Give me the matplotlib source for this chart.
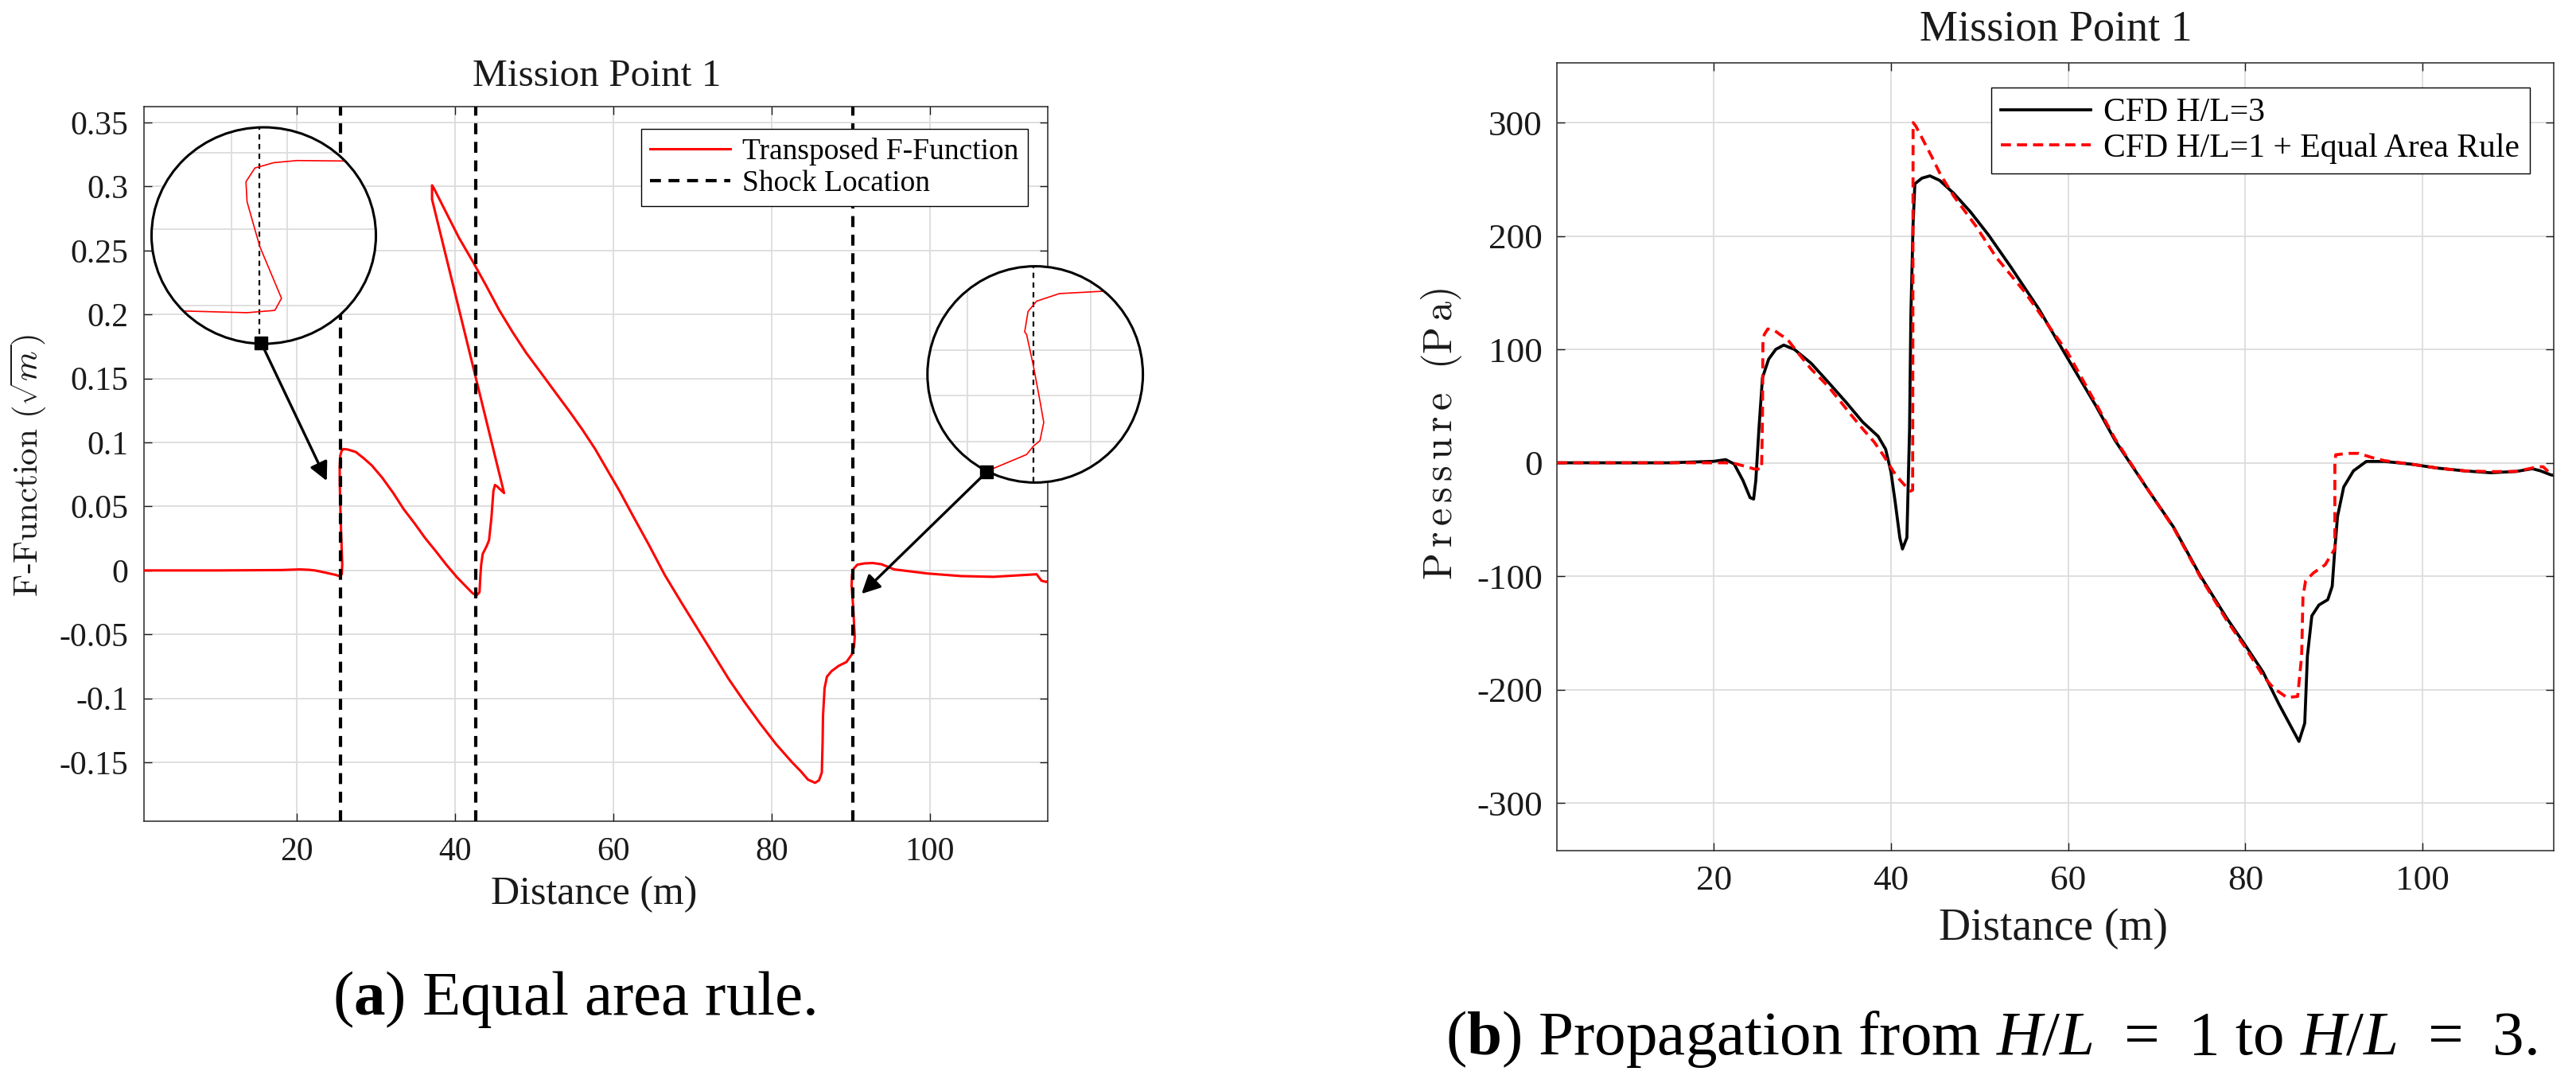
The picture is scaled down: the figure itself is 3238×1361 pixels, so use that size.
import matplotlib
matplotlib.use('Agg')
import matplotlib.pyplot as plt
from matplotlib.patches import Ellipse, FancyArrowPatch
from matplotlib.lines import Line2D

plt.rcParams['font.family'] = ['Liberation Serif', 'DejaVu Serif']
plt.rcParams['mathtext.fontset'] = 'custom'
plt.rcParams['mathtext.rm'] = 'Liberation Serif'
plt.rcParams['mathtext.it'] = 'Liberation Serif:italic'
plt.rcParams['mathtext.bf'] = 'Liberation Serif:bold'

# ---- (a) transposed F-function, traced in curve order (it folds back on itself)
f_dist = [0.7, 10, 18, 20.4, 21.5, 22.3, 23.4, 24.2, 24.92, 25.44, 25.69, 25.75,
          25.557, 25.51, 25.44, 25.43, 25.51, 25.68, 25.89, 26.45, 27.46, 28.5,
          29.5, 30.8, 32.2, 33.5, 34.9, 36.2, 37.55, 38.9, 40.2, 41.3, 42.25,
          42.75, 43.1, 43.2, 43.3, 43.5, 44.0, 44.3, 44.6, 44.85, 45.05, 45.35,
          46.2, 37.1, 37.1, 37.35, 38.9, 40.5, 42.25, 43.9, 45.6, 47.3, 49.0,
          50.8, 52.7, 54.5, 56.1, 57.7, 59.2, 60.8, 62.5, 64.5, 66.5, 68.5, 70.6,
          72.6, 74.6, 76.6, 78.6, 80.6, 82.6, 83.7, 84.6, 85.5, 86.0, 86.35,
          86.45, 86.5, 86.7, 87.0, 87.6, 88.5, 89.46, 90.15, 90.30, 90.43, 90.51,
          90.43, 90.29, 90.15, 90.11, 90.18, 90.36, 90.84, 91.74, 92.8, 93.9,
          95.5, 99.7, 103.9, 108.0, 113.5, 114.1, 114.7, 115.2]
f_val = [0.0, 0.0, 0.0003, 0.0008, 0.0005, 0.0, -0.0014, -0.0025, -0.0035,
         -0.0045, -0.003, 0.0049, 0.0383, 0.050, 0.068, 0.081, 0.090, 0.0935,
         0.0949, 0.0945, 0.0926, 0.0875, 0.082, 0.0725, 0.0605, 0.048, 0.0367,
         0.0255, 0.0152, 0.0045, -0.005, -0.012, -0.018, -0.0193, -0.017,
         -0.005, 0.004, 0.0129, 0.019, 0.0236, 0.041, 0.062, 0.0668, 0.0655,
         0.0605, 0.290, 0.301, 0.2985, 0.2795, 0.260, 0.2414, 0.223, 0.2033,
         0.186, 0.170, 0.155, 0.139, 0.124, 0.110, 0.095, 0.079, 0.062, 0.0425,
         0.020, -0.0035, -0.024, -0.045, -0.065, -0.085, -0.103, -0.12, -0.136,
         -0.150, -0.157, -0.1635, -0.166, -0.164, -0.158, -0.135, -0.114,
         -0.092, -0.083, -0.0786, -0.0745, -0.0716, -0.0656, -0.0618, -0.0596,
         -0.0516, -0.0422, -0.0267, -0.0133, -0.0122, -0.0033, 0.0012, 0.0045,
         0.0055, 0.0058, 0.0048, 0.0008, -0.0024, -0.0044, -0.005, -0.003,
         -0.008, -0.009, -0.007]
shock_x = [25.55, 42.6, 90.3]

# ---- (b) pressure signatures
cfd3_dist = [2.3, 15, 20, 21.35, 22.3, 23.3, 24.1, 24.5, 24.75, 25.1, 25.5, 26.2,
             27.0, 27.9, 29.1, 31.0, 32.9, 34.9, 36.8, 38.55, 39.4, 40.0, 40.5,
             41.0, 41.3, 41.8, 42.1, 42.25, 42.5, 42.7, 43.5, 44.4, 45.5, 47.1,
             49.0, 51.0, 53.5, 56.7, 59.9, 63.15, 65.3, 68.9, 71.9, 74.9, 77.9,
             80.0, 82.0, 83.8, 86.05, 86.7, 87.0, 87.5, 88.3, 89.3, 89.8, 90.1,
             90.4, 91.1, 92.2, 93.65, 95.7, 98.7, 101.7, 104.7, 107.7, 110.6,
             112.4, 113.3, 114.5, 114.8]
cfd3_p = [0, 0, 1.3, 2.8, -1, -15.6, -30.7, -32, -15.6, 29.7, 75, 91.4, 100,
          103.8, 100, 87.7, 71.3, 53.7, 36, 23.4, 12, -8, -35.8, -66, -76, -66,
          29.7, 130.5, 211, 246, 251, 253, 249, 237.5, 221, 201, 173, 135.5,
          92.7, 50, 19.6, -22.5, -56.8, -99.4, -137, -161, -184.6, -213, -245.7,
          -229.6, -170.4, -135, -125.4, -120.7, -108.9, -75.7, -47.3, -21.3,
          -7.1, 1.2, 1.2, -1.2, -4.7, -7.1, -8.8, -7.6, -5.2, -7.1, -10.7, -11]

ear_dist = [2.3, 15, 21.3, 22.3, 23.5, 24.6, 25.4, 25.5, 25.55, 25.7, 26.1, 26.8,
            27.5, 28.3, 29.6, 31.0, 32.9, 34.2, 35.5, 36.8, 38.1, 39.2, 40.3,
            41.0, 41.7, 42.2, 42.45, 42.5, 42.8, 43.6, 44.6, 45.6, 47.1, 49.6,
            51.9, 55.1, 57.5, 59.9, 63.15, 65.3, 68.9, 71.9, 74.9, 77.9, 80.0,
            82.0, 83.2, 84.7, 85.9, 86.35, 86.5, 86.8, 87.7, 89.0, 90.1, 90.1,
            90.2, 91.6, 92.8, 94.25, 95.7, 98.7, 101.7, 104.7, 107.7, 110.6,
            113.0, 113.6, 114.5, 114.8]
ear_p = [0, 0, 0, -0.5, -3, -5.5, -5.5, 40, 105, 113, 118, 117, 113, 109, 96,
         82.6, 67.5, 55, 42.3, 30, 18.4, 6, -8, -15, -21, -25, -24, 300, 297,
         285, 270, 254, 235, 208.6, 181, 150.6, 124, 97.7, 52, 21, -22.5, -57.5,
         -100.5, -139, -163, -188, -198.8, -207, -206, -170.4, -118, -104, -97,
         -90, -75.7, 0, 7.1, 8.3, 8.3, 4.7, 1.9, -1.2, -4.7, -7.1, -7.8, -7.6,
         -3.5, -3.5, -10, -10]

a_yticks = [-0.15, -0.1, -0.05, 0, 0.05, 0.1, 0.15, 0.2, 0.25, 0.3, 0.35]
a_ylabels = ['-0.15', '-0.1', '-0.05', '0', '0.05', '0.1', '0.15', '0.2',
             '0.25', '0.3', '0.35']
b_yticks = [-300, -200, -100, 0, 100, 200, 300]
b_ylabels = ['-300', '-200', '-100', '0', '100', '200', '300']
x_ticks = [20, 40, 60, 80, 100]

W, H = 3238, 1361
INK = '#1a1a1a'
GRID = '#dcdcdc'
fig = plt.figure(figsize=(W / 100, H / 100), dpi=100)


def box(x0, y0, x1, y1):
    # pixel box (top-left origin) -> figure fraction rect
    return [x0 / W, 1 - y1 / H, (x1 - x0) / W, (y1 - y0) / H]


def matlab_style(ax, fs, pad):
    ax.grid(True, color=GRID, lw=1.3)
    ax.set_axisbelow(True)
    ax.tick_params(direction='in', top=True, right=True, length=7, width=1.0,
                   labelsize=fs, pad=pad, colors=INK)
    for s in ax.spines.values():
        s.set_color('#262626')
        s.set_linewidth(1.1)


# ================= panel (a)
ax1 = fig.add_axes(box(181, 134, 1317, 1032))
ax1.plot(f_dist, f_val, color='red', lw=2.2, label='Transposed F-Function', zorder=3)
for i, s in enumerate(shock_x):
    ax1.axvline(s, color='k', lw=3.0, ls=(0, (3.3, 2.3)), zorder=4,
                label='Shock Location' if i == 0 else None)
ax1.set_xlim(0.7, 114.9)
ax1.set_ylim(-0.196, 0.3625)
ax1.set_xticks(x_ticks)
ax1.set_yticks(a_yticks)
ax1.set_yticklabels(a_ylabels)
matlab_style(ax1, 30, 14)
leg = ax1.legend(loc='upper right', bbox_to_anchor=(0.978, 0.969), borderaxespad=0,
                 fontsize=27, fancybox=False, edgecolor='k', framealpha=1,
                 handlelength=2.7, labelspacing=0.15, borderpad=0.3, handletextpad=0.4)
leg.get_frame().set_linewidth(1.0)

fig.text(750 / W, 1 - 96 / H, 'Mission Point 1', ha='center', va='center', fontsize=35.5, color=INK)
fig.text(747 / W, 1 - 1124 / H, 'Distance (m)', ha='center', va='center', fontsize=36, color=INK)
fig.text(36 / W, 1 - 585 / H, r'$\mathrm{F}$-$\mathrm{Function\ (}\sqrt{m}\mathrm{)}$',
         rotation=90, ha='center', va='center', fontsize=31, color=INK, math_fontfamily='cm')


def circle_inset(rect_px, xlim, ylim, xgrid, ygrid, shock):
    ins = fig.add_axes(box(*rect_px))
    ins.set_xlim(xlim)
    ins.set_ylim(ylim)
    ins.axis('off')
    bg = Ellipse((0.5, 0.5), 1, 1, transform=ins.transAxes, facecolor='white',
                 edgecolor='none', zorder=0)
    ins.add_patch(bg)
    arts = []
    for g in xgrid:
        arts.append(ins.axvline(g, color=GRID, lw=1.3, zorder=1))
    for g in ygrid:
        arts.append(ins.axhline(g, color=GRID, lw=1.3, zorder=1))
    arts.append(ins.axvline(shock, color='k', lw=1.6, ls=(0, (3, 2.5)), zorder=2))
    arts += ins.plot(f_dist, f_val, color='red', lw=1.2, zorder=3)
    for a in arts:
        a.set_clip_path(bg)
    ins.add_patch(Ellipse((0.5, 0.5), 1, 1, transform=ins.transAxes, fill=False,
                          edgecolor='k', lw=2.2, zorder=4, clip_on=False))
    return ins


circle_inset((190.5, 160, 472.5, 432), (24.58, 26.60), (-0.0248, 0.1166),
             [25.3, 25.8], [0.0, 0.05, 0.1], shock_x[0])
circle_inset((1165.8, 334.6, 1436.6, 606.4), (88.07, 92.59), (-0.0778, 0.0164),
             [88.9, 91.5], [-0.06, -0.04, -0.02], shock_x[2])

# arrows from the magnifier to the shocks, drawn above everything
for (x0, y0), (x1, y1) in [((15.5, 0.178), (23.8, 0.070)),
                           ((107.2, 0.077), (91.37, -0.0183))]:
    arr = FancyArrowPatch((x0, y0), (x1, y1), transform=ax1.transData,
                          arrowstyle='-|>', mutation_scale=35, lw=2.4, color='k',
                          shrinkA=0, shrinkB=0, zorder=6)
    fig.add_artist(arr)
    fig.add_artist(Line2D([x0], [y0], marker='s', ms=11, color='k',
                          transform=ax1.transData, zorder=7))

# ================= panel (b)
ax2 = fig.add_axes(box(1957, 78.5, 3210, 1069))
ax2.plot(cfd3_dist, cfd3_p, color='k', lw=2.7, label='CFD H/L=3', zorder=3)
ax2.plot(ear_dist, ear_p, color='red', lw=2.7, ls=(0, (3.4, 2.0)),
         label='CFD H/L=1 + Equal Area Rule', zorder=4)
ax2.set_xlim(2.3, 114.8)
ax2.set_ylim(-342, 353)
ax2.set_xticks(x_ticks)
ax2.set_yticks(b_yticks)
ax2.set_yticklabels(b_ylabels)
matlab_style(ax2, 32.5, 13)
leg2 = ax2.legend(loc='upper right', bbox_to_anchor=(0.976, 0.968), borderaxespad=0,
                  fontsize=30, fancybox=False, edgecolor='k', framealpha=1,
                  handlelength=2.7, labelspacing=0.15, borderpad=0.3, handletextpad=0.4)
leg2.get_frame().set_linewidth(1.0)

fig.text(2584 / W, 1 - 37 / H, 'Mission Point 1', ha='center', va='center', fontsize=39, color=INK)
fig.text(2581 / W, 1 - 1167 / H, 'Distance (m)', ha='center', va='center', fontsize=40, color=INK)
fig.text(1812 / W, 1 - 545 / H, r'$\mathrm{P\,r\,e\,s\,s\,u\,r\,e\ \ (P\,a)}$', rotation=90,
         ha='center', va='center', fontsize=36, color=INK, math_fontfamily='cm')

# ================= captions
fig.text(722 / W, 1 - 1256 / H, r'($\mathbf{a}$) Equal area rule.',
         ha='center', va='center', fontsize=57, color='k')
fig.text(2503 / W, 1 - 1305 / H,
         r'($\mathbf{b}$) Propagation from $H/L\;\,=\;\,1$ to $H/L\;\,=\;\,3$.',
         ha='center', va='center', fontsize=57, color='k')

fig.savefig('out.png', dpi=100)
